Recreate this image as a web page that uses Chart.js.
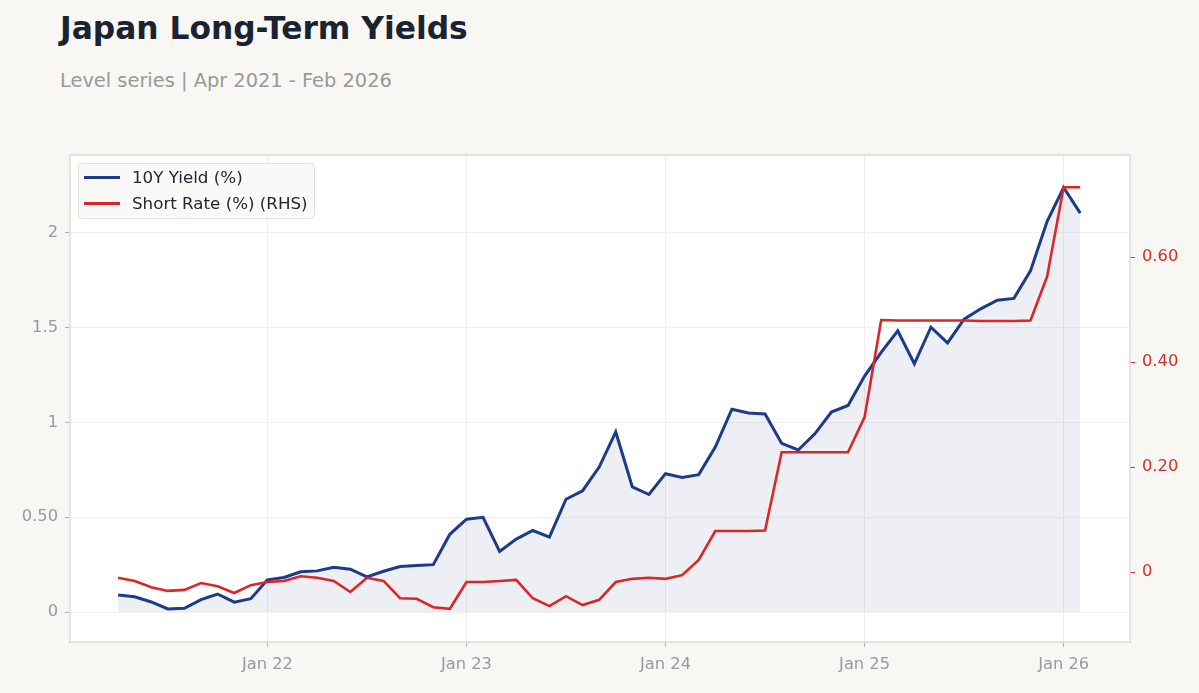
<!DOCTYPE html>
<html>
<head>
<meta charset="utf-8">
<title>Japan Long-Term Yields</title>
<script src="https://cdn.jsdelivr.net/npm/chart.js@4.4.1/dist/chart.umd.min.js"></script>
<style>
    html, body {
        margin: 0;
        padding: 0;
        width: 1199px;
        height: 693px;
        overflow: hidden;
        background: #f8f7f4;
        font-family: 'DejaVu Sans', sans-serif;
    }
    #title {
        position: absolute;
        left: 60px;
        top: 13px;
        margin: 0;
        font-size: 31.3px;
        line-height: 31px;
        font-weight: bold;
        color: #1a2332;
        white-space: nowrap;
    }
    #subtitle {
        position: absolute;
        left: 60px;
        top: 71px;
        font-size: 19.4px;
        line-height: 19px;
        color: #999999;
        white-space: nowrap;
    }
    #chart {
        position: absolute;
        left: 0;
        top: 0;
    }
    #legend {
        position: absolute;
        left: 78px;
        top: 163px;
        width: 235px;
        height: 54px;
        background: rgba(250, 248, 246, 0.92);
        border: 1px solid #e4e1dc;
        border-radius: 4px;
    }
    .legend-row {
        position: absolute;
        left: 0;
        height: 20px;
        font-size: 16.7px;
        line-height: 20px;
        color: #222831;
        white-space: nowrap;
    }
    .legend-line {
        position: absolute;
        left: 5px;
        top: 9px;
        width: 36px;
        height: 3px;
    }
    .legend-text {
        position: absolute;
        left: 53px;
        top: 0;
    }
</style>
</head>
<body>
<h1 id="title">Japan Long-Term Yields</h1>
<div id="subtitle">Level series | Apr 2021 - Feb 2026</div>
<canvas id="chart" width="1199" height="693"></canvas>
<div id="legend">
    <div class="legend-row" style="top: 3px;"><span class="legend-line" style="background: #1e3a8a;"></span><span class="legend-text">10Y Yield (%)</span></div>
    <div class="legend-row" style="top: 29px;"><span class="legend-line" style="background: #dc2626; height: 2.5px;"></span><span class="legend-text">Short Rate (%) (RHS)</span></div>
</div>
<script>
// start: data
const months = [
    'Apr 21', 'May 21', 'Jun 21', 'Jul 21', 'Aug 21', 'Sep 21', 'Oct 21', 'Nov 21', 'Dec 21',
    'Jan 22', 'Feb 22', 'Mar 22', 'Apr 22', 'May 22', 'Jun 22', 'Jul 22', 'Aug 22', 'Sep 22', 'Oct 22', 'Nov 22', 'Dec 22',
    'Jan 23', 'Feb 23', 'Mar 23', 'Apr 23', 'May 23', 'Jun 23', 'Jul 23', 'Aug 23', 'Sep 23', 'Oct 23', 'Nov 23', 'Dec 23',
    'Jan 24', 'Feb 24', 'Mar 24', 'Apr 24', 'May 24', 'Jun 24', 'Jul 24', 'Aug 24', 'Sep 24', 'Oct 24', 'Nov 24', 'Dec 24',
    'Jan 25', 'Feb 25', 'Mar 25', 'Apr 25', 'May 25', 'Jun 25', 'Jul 25', 'Aug 25', 'Sep 25', 'Oct 25', 'Nov 25', 'Dec 25',
    'Jan 26', 'Feb 26'
]
const yield10y = [
    0.09, 0.08, 0.053, 0.016, 0.02, 0.065, 0.095, 0.052, 0.07,
    0.17, 0.182, 0.212, 0.217, 0.236, 0.226, 0.185, 0.215, 0.24, 0.245, 0.25, 0.41,
    0.49, 0.50, 0.32, 0.385, 0.43, 0.395, 0.595, 0.64, 0.765, 0.95, 0.66, 0.62,
    0.73, 0.71, 0.725, 0.87, 1.07, 1.05, 1.045, 0.89, 0.855, 0.94, 1.055, 1.09,
    1.245, 1.37, 1.484, 1.31, 1.503, 1.42, 1.545, 1.60, 1.645, 1.655, 1.80, 2.06,
    2.24, 2.105
]
const shortRate = [
    -0.011, -0.017, -0.029, -0.036, -0.034, -0.021, -0.027, -0.04, -0.025,
    -0.019, -0.017, -0.008, -0.011, -0.017, -0.038, -0.011, -0.017, -0.05, -0.051, -0.067, -0.07,
    -0.019, -0.019, -0.017, -0.015, -0.05, -0.065, -0.046, -0.063, -0.053, -0.019, -0.013, -0.011,
    -0.013, -0.006, 0.023, 0.078, 0.078, 0.078, 0.079, 0.228, 0.228, 0.228, 0.228, 0.228,
    0.295, 0.48, 0.479, 0.479, 0.479, 0.479, 0.479, 0.478, 0.478, 0.478, 0.479, 0.5625,
    0.733, 0.733
]
const xTickMonths = [9, 21, 33, 45, 57]
const xTickLabels = ['Jan 22', 'Jan 23', 'Jan 24', 'Jan 25', 'Jan 26']
const leftTicks = [0, 0.5, 1, 1.5, 2]
const rightTicks = [0, 0.2, 0.4, 0.6]
// end: data

function fmtTick(v) {
    if (v === 0) return '0'
    if (Math.abs(v) < 1) return v.toFixed(2)
    return String(v)
}

const plotFrame = {
    id: 'plotFrame',
    beforeDraw(chart) {
        const { ctx, chartArea: a } = chart
        ctx.save()
        ctx.fillStyle = '#ffffff'
        ctx.fillRect(a.left, a.top, a.right - a.left, a.bottom - a.top)
        ctx.restore()
    },
    afterDraw(chart) {
        const { ctx, chartArea: a } = chart
        ctx.save()
        ctx.strokeStyle = '#dddad5'
        ctx.lineWidth = 1.5
        ctx.strokeRect(a.left, a.top, a.right - a.left, a.bottom - a.top)
        ctx.restore()
    }
}

const tickFont = { family: "'DejaVu Sans', sans-serif", size: 16.3 }

new Chart(document.getElementById('chart'), {
    type: 'line',
    data: {
        datasets: [
            {
                label: '10Y Yield (%)',
                data: yield10y.map((v, i) => ({ x: i, y: v })),
                yAxisID: 'y',
                borderColor: '#1e3a8a',
                backgroundColor: 'rgba(30, 50, 110, 0.08)',
                borderWidth: 3,
                fill: 'origin',
                pointRadius: 0,
                tension: 0,
                order: 1
            },
            {
                label: 'Short Rate (%) (RHS)',
                data: shortRate.map((v, i) => ({ x: i, y: v })),
                yAxisID: 'y1',
                borderColor: '#dc2626',
                borderWidth: 2.6,
                fill: false,
                pointRadius: 0,
                tension: 0,
                order: 0
            }
        ]
    },
    options: {
        responsive: false,
        animation: false,
        devicePixelRatio: 1,
        layout: { padding: { top: 155, left: 0, right: 0, bottom: 0 } },
        plugins: {
            legend: { display: false },
            tooltip: { enabled: false }
        },
        scales: {
            x: {
                type: 'linear',
                min: -2.9,
                max: 61,
                afterBuildTicks: s => { s.ticks = xTickMonths.map(v => ({ value: v })) },
                afterFit: s => { s.height = 51 },
                border: { display: false },
                grid: { color: '#eeeeee', tickColor: '#b5b5b5', tickLength: 5 },
                ticks: {
                    autoSkip: false,
                    maxRotation: 0,
                    padding: 8,
                    color: '#999999',
                    font: tickFont,
                    callback: (v, i) => xTickLabels[i]
                }
            },
            y: {
                position: 'left',
                min: -0.1583,
                max: 2.4116,
                afterBuildTicks: s => { s.ticks = leftTicks.map(v => ({ value: v })) },
                afterFit: s => { s.width = 70 },
                border: { display: false },
                grid: { color: '#f0f0f0', tickColor: '#b5b5b5', tickLength: 5 },
                ticks: {
                    padding: 7,
                    color: '#999999',
                    font: tickFont,
                    callback: v => fmtTick(v)
                }
            },
            y1: {
                position: 'right',
                min: -0.1333,
                max: 0.7943,
                afterBuildTicks: s => { s.ticks = rightTicks.map(v => ({ value: v })) },
                afterFit: s => { s.width = 69 },
                border: { display: false },
                grid: { drawOnChartArea: false, tickColor: '#d0312d', tickLength: 5 },
                ticks: {
                    padding: 7,
                    color: '#d0312d',
                    font: tickFont,
                    callback: v => fmtTick(v)
                }
            }
        }
    },
    plugins: [plotFrame]
})
</script>
</body>
</html>
